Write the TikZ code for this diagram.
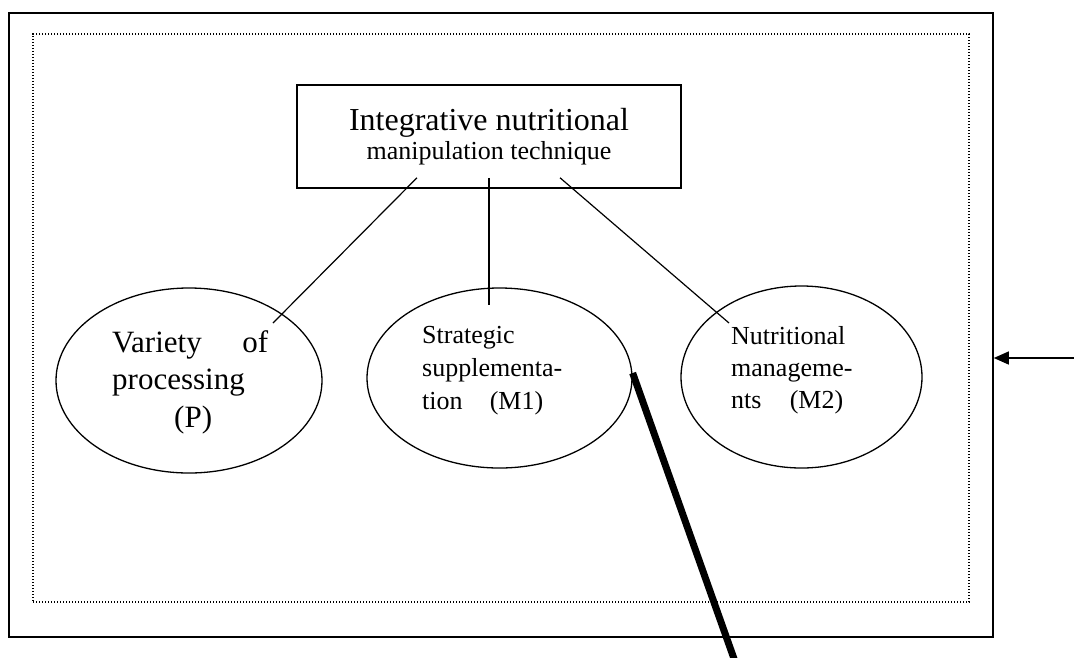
\documentclass[tikz,border=0pt]{standalone}
\usepackage{fontspec}
\setmainfont{Liberation Serif}
\usetikzlibrary{shapes.geometric,arrows.meta}
\tikzset{
 oval/.style={draw,ellipse,line width=1.3pt,inner sep=0pt},
 lbl/.style={anchor=base west,inner sep=0pt,align=left},
 link/.style={line width=1.2pt},
}
\begin{document}
\begin{tikzpicture}[x=1pt,y=-1pt]
\useasboundingbox (0,0) rectangle (1074,657);
\node[draw,line width=1.6pt,minimum width=984pt,minimum height=624pt](f)at(501,325){};
\node[draw,dash pattern=on 1.2pt off 1.8pt,line width=1.2pt,minimum width=936pt,minimum height=568pt](g)at(501,318){};
\node[draw,line width=1.5pt,minimum width=384pt,minimum height=103pt,align=center](t)at(489,136.5){\fontsize{32}{36}\selectfont Integrative nutritional\\[3pt]{\fontsize{26}{32}\selectfont manipulation technique}};
\node[oval,minimum width=266pt,minimum height=185pt](p)at(189,380.5){};
\node[oval,minimum width=265pt,minimum height=180pt](m1)at(499.5,378){};
\node[oval,minimum width=241pt,minimum height=182pt](m2)at(801.5,377){};
% base anchor sits on the last line
\node[lbl,font=\fontsize{31}{37.5}\selectfont](tp)at(112,427){\makebox[156pt][s]{Variety of}\\processing\\\hspace*{62pt}(P)};
\node[lbl,font=\fontsize{26}{33}\selectfont](tm1)at(422,409){Strategic\\supplementa-\\\makebox[121pt][s]{tion (M1)}};
\node[lbl,font=\fontsize{26}{32}\selectfont](tm2)at(731,408){Nutritional\\manageme-\\\makebox[112pt][s]{nts (M2)}};
\draw[link]([shift={(-72pt,11pt)}]t.south)--([shift={(84pt,57.5pt)}]p.center);
\draw[link]([shift={(0pt,11pt)}]t.south)--([shift={(-10.5pt,73pt)}]m1.center);
\draw[link]([shift={(71pt,11pt)}]t.south)--([shift={(-72.5pt,54pt)}]m2.center);
\coordinate(a)at(1074,358);
\draw[-{Triangle[length=15pt,width=13pt]},line width=1.3pt](a)--(a-|f.east);
\coordinate(e)at(738,670);
\draw[line width=7pt]([yshift=5pt]m1.east)--(e);
\end{tikzpicture}
\end{document}
